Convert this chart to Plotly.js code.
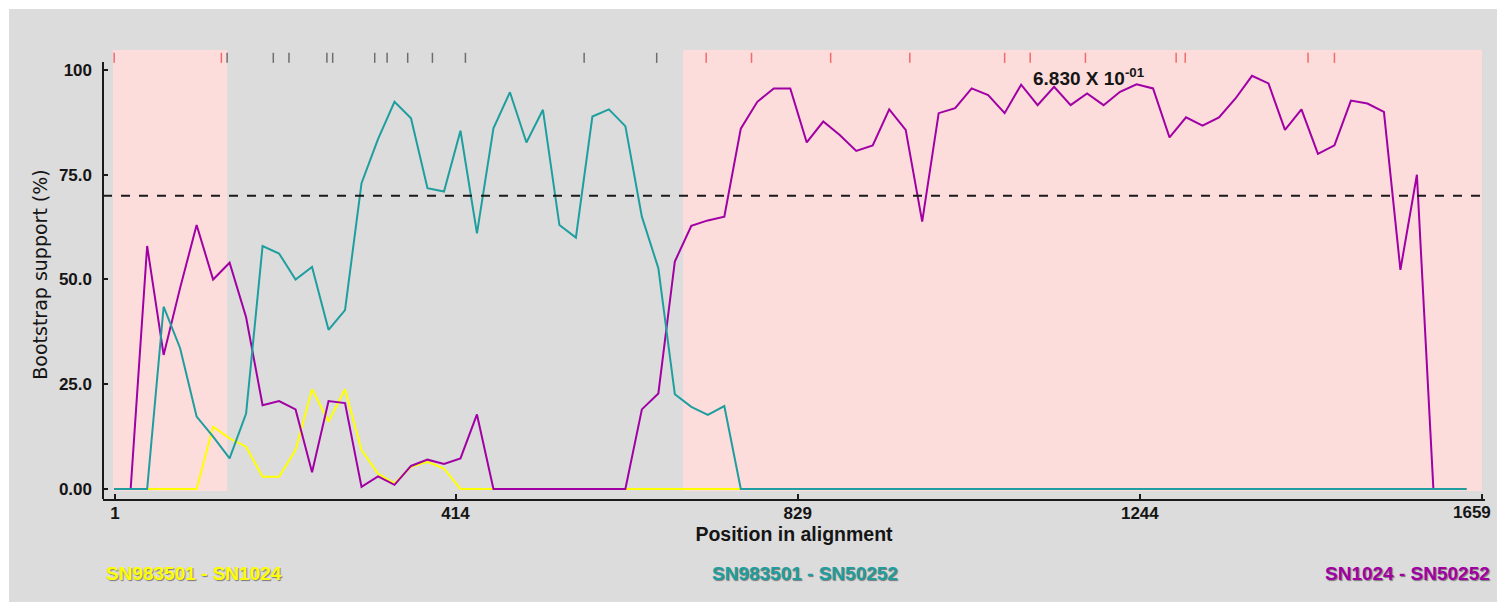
<!DOCTYPE html>
<html>
<head>
<meta charset="utf-8">
<script src="https://cdn.plot.ly/plotly-3.0.1.min.js"></script>
<style>
  html, body { margin: 0; padding: 0; background: #ffffff; }
  #chart { width: 1497px; height: 611px; }
</style>
</head>
<body>
<div id="chart"></div>
<script>
// ---- data ----
const positions = [0,20,40,60,80,100,120,140,160,180,200,220,240,260,280,300,320,340,360,380,
  400,420,440,460,480,500,520,540,560,580,600,620,640,660,680,700,720,740,760,780,
  800,820,840,860,880,900,920,940,960,980,1000,1020,1040,1060,1080,1100,1120,1140,1160,1180,
  1200,1220,1240,1260,1280,1300,1320,1340,1360,1380,1400,1420,1440,1460,1480,1500,1520,1540,1560,1580,
  1600,1620,1640];

// SN983501 - SN1024 (yellow)
const pairA = [0,0,0,0,0,0,14.9,12.1,10.1,2.9,2.9,9.3,23.8,16.1,23.8,9.3,3.7,1.3,5.3,6.5,
  4.9,0,0,0,0,0,0,0,0,0,0,0,0,0,0,0,0,0,0,0,
  0,0,0,0,0,0,0,0,0,0,0,0,0,0,0,0,0,0,0,0,
  0,0,0,0,0,0,0,0,0,0,0,0,0,0,0,0,0,0,0,0,
  0,0,0];

// SN983501 - SN50252 (teal)
const pairB = [0,0,0,43.5,33.6,17.3,12.5,7.3,18,58,56.2,50,53,38,42.7,73,83.5,92.4,88.5,71.8,
  71,85.5,61,86.1,94.7,82.7,90.5,63,60,88.9,90.6,86.6,65,52.7,22.6,19.6,17.7,19.8,0,0,
  0,0,0,0,0,0,0,0,0,0,0,0,0,0,0,0,0,0,0,0,
  0,0,0,0,0,0,0,0,0,0,0,0,0,0,0,0,0,0,0,0,
  0,0,0];

// SN1024 - SN50252 (magenta)
const pairC = [0,0,58,32,48,63,50,54,41,20,21,19,4,21,20.5,0.5,3,1,5.5,7,
  6,7.3,17.8,0,0,0,0,0,0,0,0,0,19,22.8,54.3,62.8,64.1,65,86,92.4,
  95.6,95.6,82.7,87.7,84.5,80.7,82,90.6,85.7,63.8,89.7,90.9,95.6,94,89.7,96.5,91.6,96,91.6,94.4,
  91.6,94.8,96.6,95.6,83.9,88.7,86.7,88.7,93.2,98.6,96.8,85.7,90.6,80,82,92.7,92,90,52.3,75,
  0,0,0];

const seriesNames = ["SN983501 - SN1024", "SN983501 - SN50252", "SN1024 - SN50252"];
const seriesColors = ["#ffff00", "#1e9e9e", "#a000a4"];

// informative sites marked along the top
const sitesInShaded = [0, 130, 718, 773, 869, 965, 1080, 1111, 1178, 1288, 1299, 1448, 1480];
const sitesOutside = [137, 193, 212, 258, 265, 316, 331, 356, 386, 426, 570, 658];

// shaded regions (start, end)
const regionStarts = [-1.4, 690];
const regionEnds = [137, 1659];

const threshold = 70;
const xTickVals = [1, 414, 829, 1244];
const xLastTick = 1659;
const yTickVals = [0, 25, 50, 75, 100];
const yTickText = ["0.00", "25.0", "50.0", "75.0", "100"];
const pValueText = "6.830 X 10<sup>-01</sup>";
const pValueAt = [1112, 95];

// ---- build ----
function segs(list, lo, hi) {
  const xs = [], ys = [];
  list.forEach(v => { xs.push(v, v, null); ys.push(lo, hi, null); });
  return {xs, ys};
}
const sA = segs(sitesInShaded, 101.7, 104.1);
const sB = segs(sitesOutside, 101.7, 104.1);

const traces = [
  {x: positions, y: pairA, mode: "lines", line: {color: seriesColors[0], width: 2}, name: seriesNames[0], hoverinfo: "x+y"},
  {x: positions, y: pairC, mode: "lines", line: {color: seriesColors[2], width: 2}, name: seriesNames[2], hoverinfo: "x+y"},
  {x: positions, y: pairB, mode: "lines", line: {color: seriesColors[1], width: 2}, name: seriesNames[1], hoverinfo: "x+y"},
  {x: sA.xs, y: sA.ys, mode: "lines", line: {color: "#f26b6b", width: 1.5}, hoverinfo: "skip", showlegend: false},
  {x: sB.xs, y: sB.ys, mode: "lines", line: {color: "#6e6e6e", width: 1.5}, hoverinfo: "skip", showlegend: false}
];

const shapes = [
  // white frame round the grey panel
  {type: "rect", xref: "paper", yref: "paper", x0: -0.2, x1: 1.2, y0: 1.0913, y1: 1.3, fillcolor: "#ffffff", line: {width: 0}, layer: "below"},
  {type: "rect", xref: "paper", yref: "paper", x0: -0.2, x1: -0.06802, y0: -0.4, y1: 1.3, fillcolor: "#ffffff", line: {width: 0}, layer: "below"},
  {type: "rect", xref: "paper", yref: "paper", x0: -0.2, x1: 1.2, y0: -0.4, y1: -0.2294, fillcolor: "#ffffff", line: {width: 0}, layer: "below"}
];
regionStarts.forEach((s, i) => {
  shapes.push({type: "rect", xref: "x", yref: "y", x0: s, x1: regionEnds[i], y0: -0.5, y1: 104.77,
    fillcolor: "#fddcdc", line: {width: 0}, layer: "below"});
});
shapes.push({type: "line", xref: "paper", yref: "y", x0: 0, x1: 1, y0: threshold, y1: threshold,
  line: {color: "#1a1a1a", width: 2, dash: "dash"}});
shapes.push({type: "line", xref: "paper", yref: "y", x0: 0, x1: 0, y0: -2.387, y1: 101.9,
  line: {color: "#1a1a1a", width: 2}});
// tick for the last position (its label is set just inside the panel)
shapes.push({type: "line", xref: "x", yref: "y", x0: xLastTick, x1: xLastTick, y0: -2.387, y1: -1.2,
  line: {color: "#1a1a1a", width: 2}});

const tickFont = {family: "Liberation Sans, Arial, sans-serif", size: 17, color: "#151515", weight: 700};
const legFont = (c) => ({family: "Liberation Sans, Arial, sans-serif", size: 19, color: c, weight: 700,
  shadow: "1px 1px 1px rgba(40,40,40,0.55)"});

const annotations = [
  {xref: "x", yref: "y", x: pValueAt[0], y: pValueAt[1], text: pValueText, showarrow: false,
   xanchor: "left", yanchor: "bottom", font: {family: "Liberation Sans, Arial, sans-serif", size: 19, color: "#151515", weight: 700}},
  {xref: "x", yref: "paper", x: xLastTick - 12, y: -0.031, text: String(xLastTick), showarrow: false,
   xanchor: "center", yanchor: "middle", font: tickFont},
  {xref: "paper", yref: "paper", x: 0.0007, y: -0.167, text: seriesNames[0], showarrow: false, xanchor: "left", yanchor: "middle", font: legFont(seriesColors[0])},
  {xref: "paper", yref: "paper", x: 0.508, y: -0.167, text: seriesNames[1], showarrow: false, xanchor: "center", yanchor: "middle", font: legFont(seriesColors[1])},
  {xref: "paper", yref: "paper", x: 1.005, y: -0.167, text: seriesNames[2], showarrow: false, xanchor: "right", yanchor: "middle", font: legFont(seriesColors[2])}
];

const layout = {
  width: 1497, height: 611,
  margin: {l: 103, r: 12, t: 50, b: 112, pad: 0},
  paper_bgcolor: "#dcdcdc",
  plot_bgcolor: "#dcdcdc",
  showlegend: false,
  xaxis: {
    range: [-13.55, 1662.6], tickvals: xTickVals, ticktext: xTickVals.map(String),
    ticks: "inside", ticklen: 5, tickwidth: 2, tickcolor: "#1a1a1a",
    showline: true, linecolor: "#1a1a1a", linewidth: 2, mirror: false,
    showgrid: false, zeroline: false, tickfont: tickFont, automargin: false,
    ticklabelstandoff: -2,
    title: {text: "Position in alignment", font: {family: "Liberation Sans, Arial, sans-serif", size: 19.5, color: "#151515", weight: 700}, standoff: 0}
  },
  yaxis: {
    range: [-2.387, 104.77], tickvals: yTickVals, ticktext: yTickText,
    ticks: "inside", ticklen: 5, tickwidth: 2, tickcolor: "#1a1a1a",
    showline: false, showgrid: false, zeroline: false, tickfont: tickFont, automargin: false,
    ticklabelstandoff: 10,
    title: {text: "Bootstrap support (%)", font: {family: "DejaVu Sans, sans-serif", size: 19, color: "#151515"}, standoff: 6}
  },
  shapes: shapes,
  annotations: annotations
};

Plotly.newPlot("chart", traces, layout, {displayModeBar: false, staticPlot: true});
</script>
</body>
</html>
